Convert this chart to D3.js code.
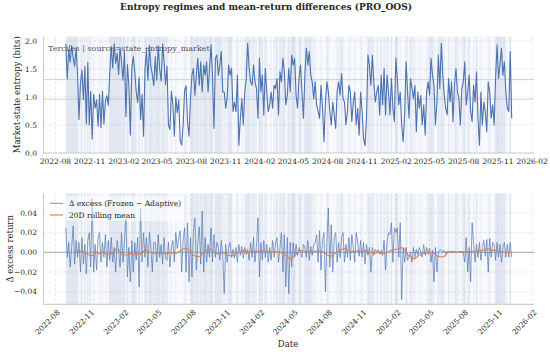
<!DOCTYPE html>
<html>
<head>
<meta charset="utf-8">
<script src="https://cdn.jsdelivr.net/npm/d3@7/dist/d3.min.js"></script>
<style>
	body { margin: 0; background: #fff; }
	text { font-family: "DejaVu Serif", serif; fill: #262626; }
</style>
</head>
<body>
<svg id="chart" width="550" height="352"></svg>
<script>
// ---- data ----
const startDate = "2022-08-29";
const endDate = "2025-12-08";
const rollStartDate = "2022-09-25";

// market-state entropy, one value every ~4 days, grouped by month
const entropy = [
	1.95, 1.32, 1.85, 1.62, 1.92, 1.70, 1.55, 1.88,   // 2022-09
	1.42, 0.60, 1.25, 1.48, 0.95, 1.55, 0.52, 1.62,   // 2022-10
	0.50, 1.10, 0.25, 1.05, 0.80, 0.95, 0.48,         // 2022-11
	1.05, 0.45, 1.10, 0.52, 0.92, 1.02, 0.85, 1.45,   // 2022-12
	1.90, 1.52, 1.95, 1.60, 1.78, 1.40, 1.88, 1.62,   // 2023-01
	1.30, 1.82, 0.65, 1.58, 1.22, 0.32, 1.50,         // 2023-02
	1.72, 1.45, 1.10, 0.90, 1.35, 0.60, 1.05, 0.30,   // 2023-03
	1.50, 1.82, 1.30, 1.92, 1.55, 1.40, 1.20,         // 2023-04
	1.72, 1.30, 1.92, 1.50, 1.28, 1.95, 1.62, 1.22,   // 2023-05
	1.55, 0.50, 0.42, 1.10, 0.88, 0.30, 1.00, 0.72,   // 2023-06
	0.95, 0.22, 0.14, 0.50, 1.12, 1.20, 0.55, 0.30,   // 2023-07
	0.97, 1.39, 1.51, 1.03, 1.39, 1.69, 1.21, 1.63,   // 2023-08
	1.09, 1.57, 1.39, 1.63, 1.09, 1.51, 1.93,         // 2023-09
	1.39, 0.44, 1.69, 1.75, 1.39, 1.57, 1.81, 1.09,   // 2023-10
	1.09, 0.80, 0.97, 1.57, 1.39, 1.51, 0.74, 0.91,   // 2023-11
	0.74, 1.39, 0.14, 0.62, 0.97, 0.50, 1.09, 1.33,   // 2023-12
	1.96, 1.51, 1.27, 1.21, 1.57, 1.27, 1.15, 0.62,   // 2024-01
	1.69, 1.09, 1.39, 0.68, 1.51, 1.09, 0.74,         // 2024-02
	0.86, 1.09, 0.80, 1.21, 1.15, 1.33, 0.68, 1.45,   // 2024-03
	1.27, 1.69, 1.45, 0.86, 1.03, 1.51, 1.09, 1.75,   // 2024-04
	1.57, 1.69, 1.03, 0.80, 1.33, 1.57, 1.09, 0.62,   // 2024-05
	1.39, 1.87, 1.57, 1.81, 1.39, 1.27, 0.97,         // 2024-06
	1.27, 0.86, 0.74, 0.62, 1.21, 0.80, 0.20, 0.91,   // 2024-07
	1.27, 1.09, 0.74, 0.50, 0.91, 0.68, 0.44, 1.09,   // 2024-08
	1.27, 1.03, 1.42, 0.97, 0.91, 0.50, 0.74,         // 2024-09
	1.21, 1.09, 0.56, 0.91, 1.09, 0.50, 0.80, 0.32,   // 2024-10
	1.09, 0.74, 0.26, 0.13, 0.62, 1.75, 1.57, 1.21,   // 2024-11
	1.75, 1.27, 0.91, 1.09, 1.21, 0.68, 1.39, 0.86,   // 2024-12
	1.51, 0.68, 1.39, 1.09, 0.68, 1.33, 0.80, 0.56,   // 2025-01
	1.69, 1.33, 0.86, 1.09, 0.50, 0.20, 0.68,         // 2025-02
	1.63, 1.09, 0.62, 1.33, 1.15, 0.97, 1.21, 0.38,   // 2025-03
	1.09, 0.80, 1.03, 0.50, 0.86, 0.32, 1.09, 1.27,   // 2025-04
	1.03, 1.69, 1.39, 1.21, 0.50, 0.91, 1.75, 1.15,   // 2025-05
	1.96, 1.39, 1.03, 0.80, 0.68, 1.33, 0.91,         // 2025-06
	1.27, 0.56, 1.21, 1.51, 1.09, 0.97, 0.50, 1.15,   // 2025-07
	1.27, 1.63, 0.86, 1.09, 1.39, 0.74, 0.56, 1.21,   // 2025-08
	0.91, 1.45, 0.62, 0.14, 1.09, 0.50, 0.91, 0.74,   // 2025-09
	0.38, 1.27, 1.09, 0.62, 0.86, 0.50, 1.33,         // 2025-10
	1.93, 1.33, 1.57, 1.87, 1.39, 1.63, 1.09, 0.80,   // 2025-11
	0.74, 1.81, 0.62                                  // 2025-12
];

// delta excess return (Frozen - Adaptive), same sampling as entropy
const deltaExcess = [
	0.025, -0.005, 0.010, -0.015, 0.005, 0.027, -0.012, 0.012,   // 2022-09
	-0.005, 0.010, -0.020, 0.015, -0.012, 0.008, -0.022, 0.012,  // 2022-10
	0.020, -0.015, 0.055, -0.020, 0.008, -0.018, 0.015,          // 2022-11
	0.020, -0.010, 0.010, -0.005, 0.018, -0.015, 0.012, -0.008,  // 2022-12
	0.015, -0.010, 0.005, -0.020, 0.012, 0.002, -0.015, 0.020,   // 2023-01
	-0.010, 0.010, 0.035, -0.025, 0.005, -0.030, 0.012,          // 2023-02
	-0.020, 0.010, -0.008, 0.015, -0.035, 0.045, -0.010, 0.020,  // 2023-03
	-0.005, 0.015, -0.015, 0.020, 0.005, -0.020, 0.010,          // 2023-04
	0.010, -0.010, 0.018, -0.005, 0.008, -0.012, 0.015, -0.006,  // 2023-05
	-0.008, 0.010, -0.015, 0.005, 0.012, -0.010, 0.020, 0.004,   // 2023-06
	0.015, 0.022, -0.020, 0.012, 0.025, -0.020, 0.030, -0.030,   // 2023-07
	0.015, -0.025, 0.020, 0.035, -0.018, 0.010, 0.026, -0.012,   // 2023-08
	0.042, -0.020, 0.015, -0.010, 0.008, -0.005, 0.025,          // 2023-09
	-0.010, 0.018, -0.005, 0.010, 0.005, -0.008, 0.012, -0.004,  // 2023-10
	-0.042, 0.008, -0.010, 0.005, 0.010, -0.005, 0.003, -0.006,  // 2023-11
	0.005, -0.010, 0.008, -0.003, 0.006, -0.006, 0.005, -0.002,  // 2023-12
	0.003, -0.008, 0.010, -0.005, 0.015, -0.010, 0.006, 0.035,   // 2024-01
	-0.025, 0.010, -0.008, 0.012, -0.005, 0.008, -0.010,         // 2024-02
	0.005, -0.008, 0.012, -0.005, 0.010, 0.015, -0.010, 0.004,   // 2024-03
	0.020, -0.020, 0.018, -0.035, 0.015, -0.042, 0.010, -0.015,  // 2024-04
	0.010, -0.005, 0.008, -0.003, 0.005, 0.000, -0.005, 0.008,   // 2024-05
	0.005, -0.005, 0.012, -0.008, 0.006, -0.003, 0.008,          // 2024-06
	0.010, 0.018, -0.010, 0.022, -0.018, 0.012, 0.020, -0.040,   // 2024-07
	0.010, 0.045, -0.015, 0.028, -0.020, 0.015, 0.020, -0.010,   // 2024-08
	0.010, -0.005, 0.015, 0.020, -0.010, 0.008, -0.005,          // 2024-09
	0.015, -0.008, 0.018, 0.005, -0.010, 0.020, 0.010, -0.004,   // 2024-10
	0.012, -0.005, 0.010, -0.012, 0.008, -0.003, 0.005, -0.020,  // 2024-11
	0.005, -0.003, 0.003, 0.000, 0.003, -0.002, 0.002, -0.003,   // 2024-12
	0.012, -0.018, 0.010, 0.020, 0.018, 0.030, -0.010, 0.025,    // 2025-01
	0.020, 0.025, -0.005, 0.030, -0.048, 0.005, -0.010,          // 2025-02
	0.005, -0.008, -0.005, 0.000, -0.010, 0.005, -0.005, 0.003,  // 2025-03
	-0.003, 0.005, 0.000, -0.005, 0.008, -0.003, 0.005, -0.002,  // 2025-04
	0.004, -0.010, 0.002, -0.030, 0.005, -0.020, 0.000, 0.003,   // 2025-05
	0.002, 0.000, 0.002, -0.001, 0.001, 0.000, 0.001,            // 2025-06
	0.000, 0.000, 0.001, 0.000, 0.000, 0.001, 0.000, 0.000,      // 2025-07
	0.000, -0.010, 0.015, -0.020, 0.005, -0.030, 0.030, 0.010,   // 2025-08
	-0.010, 0.008, -0.005, 0.010, -0.008, 0.005, 0.012, -0.004,  // 2025-09
	0.013, -0.020, 0.014, -0.005, 0.010, 0.008, -0.008,          // 2025-10
	0.010, -0.005, 0.008, -0.010, 0.005, 0.010, -0.005, 0.008,   // 2025-11
	-0.005, 0.010, -0.005                                        // 2025-12
];

// 20D rolling mean, read every ~9 days from 2022-09-25 to the end
const rollingMean = [
	0.0014, 0.0014, 0.0007, -0.0010, -0.0027, -0.0034, 0.0003, -0.0014,
	0.0007, -0.0020, -0.0027, -0.0007, 0.0034, 0.0020, -0.0027, -0.0027,
	-0.0014, -0.0027, -0.0014, -0.0027, 0.0007, 0.0024, 0.0000, -0.0007,
	-0.0014, -0.0007, -0.0014, -0.0014, 0.0000, -0.0007, -0.0007, 0.0014,
	0.0034, 0.0041, 0.0020, -0.0027, -0.0044, -0.0041, 0.0000, 0.0020,
	0.0034, 0.0007, -0.0014, -0.0014, 0.0000, -0.0027, -0.0034, -0.0034,
	-0.0014, 0.0007, 0.0020, 0.0007, 0.0000, 0.0007, 0.0014, 0.0007,
	0.0020, 0.0014, 0.0007, 0.0000, 0.0007, 0.0000, -0.0014, -0.0041,
	-0.0068, -0.0047, -0.0007, 0.0020, 0.0014, 0.0007, 0.0014, 0.0007,
	0.0014, 0.0014, 0.0000, -0.0027, -0.0041, -0.0020, 0.0007, 0.0020,
	0.0041, 0.0027, 0.0014, 0.0007, 0.0014, 0.0007,
	0.0020, 0.0007, 0.0000, -0.0007, 0.0000, -0.0007, -0.0007, 0.0000,
	0.0020, 0.0027, 0.0034, 0.0047, 0.0034, -0.0027, -0.0047, -0.0068,
	-0.0041, -0.0014, -0.0007, 0.0000, -0.0007, -0.0014, -0.0041, -0.0047,
	-0.0041, 0.0007, 0.0007, 0.0003, 0.0003, 0.0007, 0.0003, 0.0007,
	0.0007, 0.0014, 0.0020, 0.0014, 0.0027, 0.0034, 0.0020, 0.0020,
	0.0014, 0.0007, 0.0000, 0.0000, 0.0000
];

const terciles = [0.96, 1.31];
const monthTicks = ["2022-08", "2022-11", "2023-02", "2023-05", "2023-08", "2023-11",
	"2024-02", "2024-05", "2024-08", "2024-11", "2025-02", "2025-05", "2025-08",
	"2025-11", "2026-02"];
const entropyTicks = [0, 0.5, 1.0, 1.5, 2.0];
const deltaTicks = [-0.04, -0.02, 0, 0.02, 0.04];
const legendLabels = ["\u0394 excess (Frozen \u2212 Adaptive)", "20D rolling mean"];

// ---- layout ----
const left = 43.5, right = 534;
const panelTop = { top: 36.5, bottom: 153 };
const panelBot = { top: 193.3, bottom: 304.3 };
const blue = "#4c72b0", orange = "#dd8452";

const parse = d3.utcParse("%Y-%m-%d");
const parseMonth = d3.utcParse("%Y-%m");

/**
 * spreadDates()
 * @description places n samples evenly between two dates
 */
function spreadDates(n, from, to) {
	const a = parse(from), b = parse(to);
	return d3.range(n).map(i => new Date(+a + (b - a) * i / (n - 1)));
}

const dates = spreadDates(entropy.length, startDate, endDate);
const deltaDates = spreadDates(deltaExcess.length, startDate, endDate);
const rollDates = spreadDates(rollingMean.length, rollStartDate, endDate);

const t0 = parse(startDate), t1 = parse(endDate);
const pad = (t1 - t0) * 0.05;
const x = d3.scaleUtc().domain([new Date(+t0 - pad), new Date(+t1 + pad)]).range([left, right]);
const yTop = d3.scaleLinear().domain([0, 2.08]).range([panelTop.bottom, panelTop.top]);
const yBot = d3.scaleLinear().domain([-0.0528, 0.060]).range([panelBot.bottom, panelBot.top]);

const tickDates = monthTicks.map(parseMonth);
const minus = s => s.replace("-", "\u2212");

const svg = d3.select("#chart");
svg.append("rect").attr("width", 550).attr("height", 352).attr("fill", "#fff");

// regime shading: one strip per sample, stronger for higher tercile
const regime = v => v < terciles[0] ? 0 : (v < terciles[1] ? 1 : 2);
const regimeAlpha = [0.04, 0.10, 0.17];
const strips = entropy.map((v, i) => {
	const a = i === 0 ? dates[0] : new Date((+dates[i - 1] + +dates[i]) / 2);
	const b = i === entropy.length - 1 ? dates[i] : new Date((+dates[i] + +dates[i + 1]) / 2);
	return { a, b, r: regime(v) };
});

/**
 * drawFrame()
 * @description grid, regime strips and spines for one panel
 */
function drawFrame(panel, y, yTicks, fmt) {
	const g = svg.append("g");
	const h = panel.bottom - panel.top;

	// grid
	g.append("g").selectAll("line").data(tickDates).join("line")
		.attr("x1", d => x(d)).attr("x2", d => x(d))
		.attr("y1", panel.top).attr("y2", panel.bottom)
		.attr("stroke", "#e3e3e3").attr("stroke-width", 0.8).attr("stroke-dasharray", "3,2");
	g.append("g").selectAll("line").data(yTicks).join("line")
		.attr("x1", left).attr("x2", right)
		.attr("y1", d => y(d)).attr("y2", d => y(d))
		.attr("stroke", "#e3e3e3").attr("stroke-width", 0.8).attr("stroke-dasharray", "3,2");

	// strips
	g.append("g").selectAll("rect").data(strips).join("rect")
		.attr("x", d => x(d.a)).attr("width", d => Math.max(0.3, x(d.b) - x(d.a)))
		.attr("y", panel.top).attr("height", h)
		.attr("fill", blue).attr("fill-opacity", d => regimeAlpha[d.r]);

	// spines
	g.append("line").attr("x1", left).attr("x2", left).attr("y1", panel.top).attr("y2", panel.bottom + 0.6)
		.attr("stroke", "#cfcfcf").attr("stroke-width", 1.2);
	g.append("line").attr("x1", left).attr("x2", right).attr("y1", panel.bottom).attr("y2", panel.bottom)
		.attr("stroke", "#cfcfcf").attr("stroke-width", 1.2);

	// y tick labels
	g.append("g").selectAll("text").data(yTicks).join("text")
		.attr("x", 37).attr("y", d => y(d)).attr("dy", "0.35em")
		.attr("text-anchor", "end").attr("font-size", 7.5)
		.text(d => minus(fmt(d)));
	return g;
}

// ---- top panel ----
const gTop = drawFrame(panelTop, yTop, entropyTicks, d3.format(".1f"));
gTop.append("g").selectAll("line").data(terciles).join("line")
	.attr("x1", left).attr("x2", right)
	.attr("y1", d => yTop(d)).attr("y2", d => yTop(d))
	.attr("stroke", "#bcc6d8").attr("stroke-width", 0.8);
gTop.append("path").datum(entropy)
	.attr("fill", "none").attr("stroke", blue).attr("stroke-width", 1.1).attr("stroke-linejoin", "round")
	.attr("d", d3.line().x((d, i) => x(dates[i])).y(d => yTop(d)));
gTop.append("g").selectAll("text").data(tickDates).join("text")
	.attr("x", d => x(d)).attr("y", 164)
	.attr("text-anchor", "middle").attr("font-size", 7.5)
	.text(d3.utcFormat("%Y-%m"));
gTop.append("text").attr("x", 48).attr("y", 51)
	.attr("font-size", 8).style("fill", "#555")
	.text("Terciles | source=state_entropy_market");
gTop.append("text")
	.attr("transform", `translate(17,${(panelTop.top + panelTop.bottom) / 2}) rotate(-90)`)
	.attr("text-anchor", "middle").attr("dy", "0.35em").attr("font-size", 8.5)
	.text("Market-state entropy (bits)");

// ---- bottom panel ----
const gBot = drawFrame(panelBot, yBot, deltaTicks, d3.format(".2f"));
gBot.append("line").attr("x1", left).attr("x2", right)
	.attr("y1", yBot(0)).attr("y2", yBot(0))
	.attr("stroke", "#9aaccc").attr("stroke-width", 1);
gBot.append("path").datum(deltaExcess)
	.attr("fill", "none").attr("stroke", blue).attr("stroke-width", 0.8).attr("stroke-opacity", 0.85)
	.attr("d", d3.line().x((d, i) => x(deltaDates[i])).y(d => yBot(d)));
gBot.append("path").datum(rollingMean)
	.attr("fill", "none").attr("stroke", orange).attr("stroke-width", 1.2)
	.attr("d", d3.line().x((d, i) => x(rollDates[i])).y(d => yBot(d)));
gBot.append("g").selectAll("text").data(tickDates).join("text")
	.attr("transform", d => `translate(${x(d) + 1},309) rotate(-45)`)
	.attr("text-anchor", "end").attr("dy", "0.75em").attr("font-size", 7.5)
	.text(d3.utcFormat("%Y-%m"));
gBot.append("text")
	.attr("transform", `translate(10,${(panelBot.top + panelBot.bottom) / 2}) rotate(-90)`)
	.attr("text-anchor", "middle").attr("dy", "0.35em").attr("font-size", 8.5)
	.text("\u0394 excess return");
svg.append("text").attr("x", 288).attr("y", 347)
	.attr("text-anchor", "middle").attr("font-size", 8.5).text("Date");

// legend
const leg = svg.append("g");
leg.append("rect").attr("x", 46).attr("y", 196).attr("width", 138).attr("height", 25)
	.attr("rx", 2).attr("fill", "#fff").attr("fill-opacity", 0.55);
const legStyles = [{ c: blue, w: 0.9, o: 0.85 }, { c: orange, w: 1.2, o: 1 }];
legendLabels.forEach((lab, i) => {
	const yy = 203.3 + i * 11.7;
	leg.append("line").attr("x1", 50).attr("x2", 63).attr("y1", yy).attr("y2", yy)
		.attr("stroke", legStyles[i].c).attr("stroke-width", legStyles[i].w).attr("stroke-opacity", legStyles[i].o);
	leg.append("text").attr("x", 69).attr("y", yy).attr("dy", "0.35em")
		.attr("font-size", 7.5).text(lab);
});

// title
svg.append("text").attr("x", 266).attr("y", 10)
	.attr("text-anchor", "middle").attr("font-size", 9).attr("font-weight", "bold")
	.text("Entropy regimes and mean-return differences (PRO_OOS)");
</script>
</body>
</html>
